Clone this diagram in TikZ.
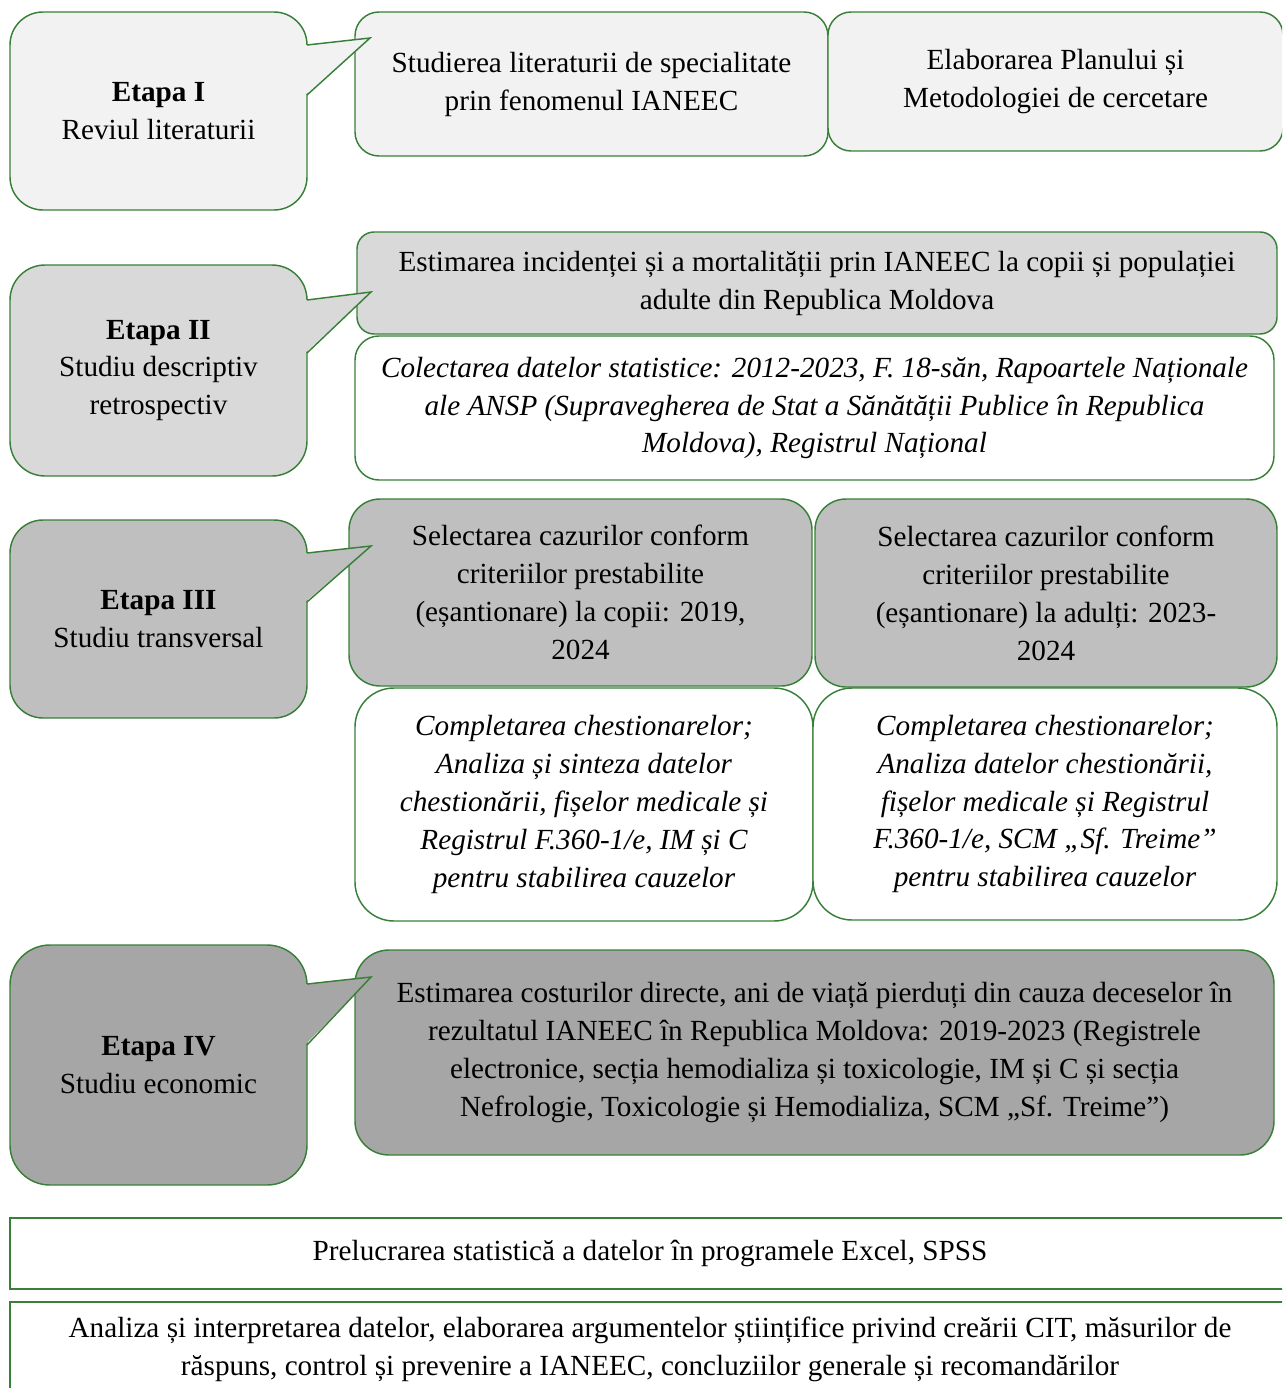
\documentclass[tikz,border=0pt]{standalone}
\usepackage{fontspec}
\setmainfont{Liberation Serif}
\usetikzlibrary{calc}
\newcommand\unitpx{0.411pt}
\definecolor{frame}{RGB}{56,128,56}
\definecolor{shadeI}{RGB}{242,242,242}
\definecolor{shadeII}{RGB}{217,217,217}
\definecolor{shadeIII}{RGB}{191,191,191}
\definecolor{shadeIV}{RGB}{166,166,166}

\begin{document}
\begin{tikzpicture}[x=\unitpx, y=-\unitpx,
        every node/.style={font=\fontsize{12}{15.6}\selectfont, align=center, inner sep=0pt, outer sep=0pt},
        box/.style={draw=frame, line width=0.6pt, anchor=north west},
        edge/.style={draw=frame, line width=0.6pt},
        boxsz/.style n args={3}{minimum width={#1*\unitpx}, minimum height={#2*\unitpx}, rounded corners={#3*\unitpx}},
        note/.style={box, fill=white, font=\fontsize{12}{15.6}\selectfont\itshape}]
      \useasboundingbox (0,0) rectangle (1282,1388);
      \clip (0,0) rectangle (1282,1388);
      \tikzstyle{stage} = [box, boxsz={297}{#1}{33}]

      \node (literatura) [box, fill=shadeI, boxsz={473}{144}{24}] at (355,12) {Studierea literaturii de specialitate\\prin fenomenul IANEEC};
      \node (plan) [box, fill=shadeI, boxsz={455}{139}{23}] at (828,12) {Elaborarea Planului și\\Metodologiei de cercetare};
      \node (incidenta) [box, fill=shadeII, boxsz={920}{102}{17}] at (357,232) {Estimarea incidenței și a mortalității prin IANEEC la copii și populației\\adulte din Republica Moldova};
      \node (colectare) [note, boxsz={919}{144}{24}] at (355,336) {Colectarea datelor statistice: 2012-2023, F. 18-săn, Rapoartele Naționale\\ale ANSP (Supravegherea de Stat a Sănătății Publice în Republica\\Moldova), Registrul Național};
      \node (selcopii) [box, fill=shadeIII, boxsz={463}{187}{31}] at (349,499) {Selectarea cazurilor conform\\criteriilor prestabilite\\(eșantionare) la copii: 2019,\\2024};
      \node (seladulti) [box, fill=shadeIII, boxsz={462}{188}{31}] at (815,499) {Selectarea cazurilor conform\\criteriilor prestabilite\\(eșantionare) la adulți: 2023-\\2024};
      \node (chestcopii) [note, boxsz={458}{233}{39}] at (355,688) {Completarea chestionarelor;\\Analiza și sinteza datelor\\chestionării, fișelor medicale și\\Registrul F.360-1/e, IM și C\\pentru stabilirea cauzelor};
      \node (chestadulti) [note, boxsz={464}{232}{39}] at (813,688) {Completarea chestionarelor;\\Analiza datelor chestionării,\\fișelor medicale și Registrul\\F.360-1/e, SCM „Sf. Treime”\\pentru stabilirea cauzelor};
      \node (costuri) [box, fill=shadeIV, boxsz={919}{205}{34}] at (355,950) {Estimarea costurilor directe, ani de viață pierduți din cauza deceselor în\\rezultatul IANEEC în Republica Moldova: 2019-2023 (Registrele\\electronice, secția hemodializa și toxicologie, IM și C și secția\\Nefrologie, Toxicologie și Hemodializa, SCM „Sf. Treime”)};
      \node (prelucrare) [box, fill=white, boxsz={1280}{71}{0}] at (10,1218) {Prelucrarea statistică a datelor în programele Excel, SPSS};
      \node (analiza) [box, fill=white, boxsz={1280}{95}{0}] at (10,1302) {Analiza și interpretarea datelor, elaborarea argumentelor științifice privind creării CIT, măsurilor de\\răspuns, control și prevenire a IANEEC, concluziilor generale și recomandărilor};

      \node (EtapaI) [box, fill=shadeI, boxsz={297}{198}{33}] at (10,12) {\textbf{Etapa I}\\Reviul literaturii};
      \node (EtapaII) [box, fill=shadeII, boxsz={297}{211}{35}] at (10,265) {\textbf{Etapa II}\\Studiu descriptiv\\retrospectiv};
      \node (EtapaIII) [box, fill=shadeIII, boxsz={297}{198}{33}] at (10,520) {\textbf{Etapa III}\\Studiu transversal};
      \node (EtapaIV) [box, fill=shadeIV, boxsz={297}{240}{40}] at (10,945) {\textbf{Etapa IV}\\Studiu economic};

      \coordinate (tipI) at (370,38);
      \coordinate (tipII) at (371,292);
      \coordinate (tipIII) at (371,546);
      \coordinate (tipIV) at (371,977);
      \foreach \s/\t/\b in {I/33/83, II/35/88, III/33/82, IV/39/100} {
        \fill[shade\s] ($(Etapa\s.north east)+(-2,\t)$) -- (tip\s) -- ($(Etapa\s.north east)+(-2,\b)$) -- cycle;
        \draw[edge] ($(Etapa\s.north east)+(0,\t)$) -- (tip\s) -- ($(Etapa\s.north east)+(0,\b)$);
      }
    \end{tikzpicture}
\end{document}
